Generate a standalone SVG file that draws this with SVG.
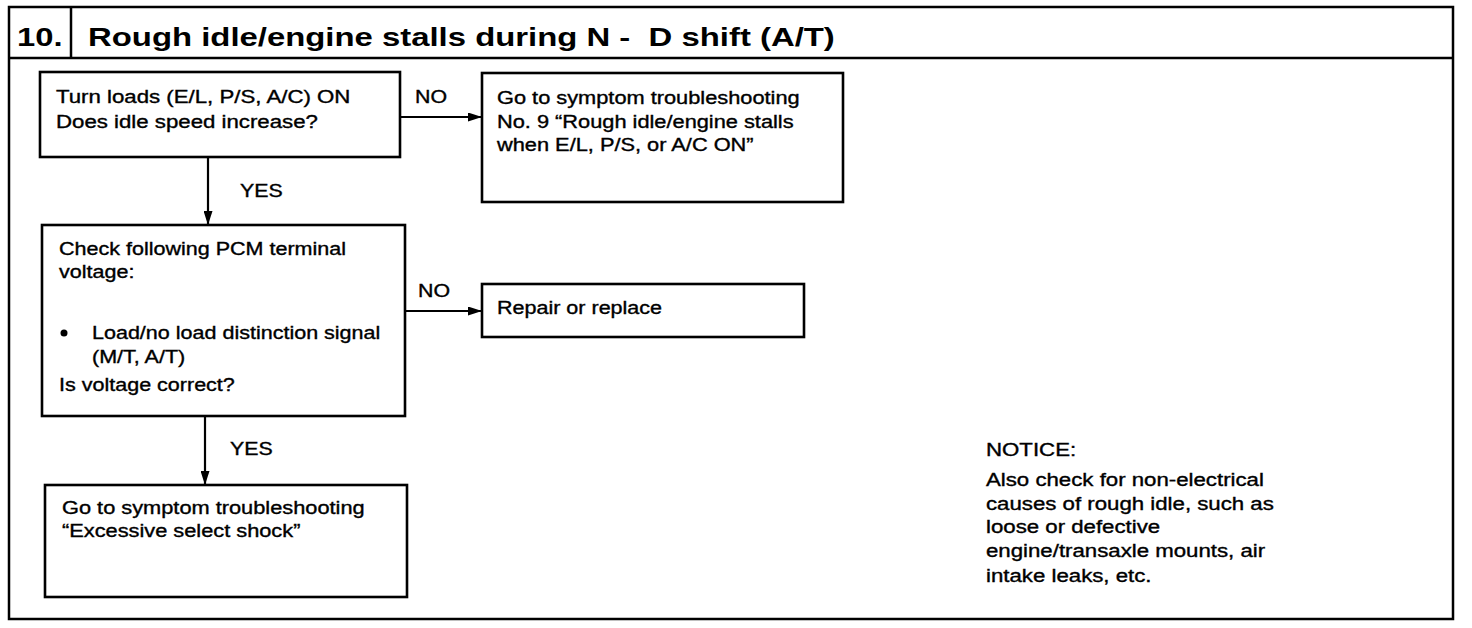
<svg xmlns="http://www.w3.org/2000/svg" width="1472" height="628" viewBox="0 0 1472 628">
<style>
  .bg { fill: #ffffff; }
  .frame { fill: none; stroke: #000; stroke-width: 2.5; }
  .box { fill: #ffffff; stroke: #000; stroke-width: 2.6; }
  .conn { fill: none; stroke: #000; stroke-width: 2.2; }
  .t { font-family: "Liberation Sans", Arial, Helvetica, sans-serif; font-size: 17.5px; fill: #000; stroke: #000; stroke-width: 0.35; }
  .title { font-family: "Liberation Sans", Arial, Helvetica, sans-serif; font-size: 26px; font-weight: bold; fill: #000; white-space: pre; }
</style>
<defs>
  <marker id="arr" viewBox="0 0 14 9" refX="14" refY="4.5" markerWidth="14" markerHeight="9" markerUnits="userSpaceOnUse" orient="auto">
    <path d="M0,0 L14,4.5 L0,9 Z" fill="#000"/>
  </marker>
</defs>
<rect class="bg" x="0" y="0" width="1472" height="628"/>

<g id="frame">
  <rect class="frame" x="9" y="7" width="1444" height="612"/>
  <line class="frame" x1="9" y1="58" x2="1453" y2="58"/>
  <line class="frame" x1="71" y1="7" x2="71" y2="58"/>
  <g transform="translate(17 0) scale(1.26 1)"><text class="title" x="0" y="46">10.</text></g>
  <g transform="translate(88 0) scale(1.265 1)"><text class="title" x="0" y="46">Rough idle/engine stalls during N -  D shift (A/T)</text></g>
</g>

<g id="connectors">
  <line class="conn" x1="400" y1="117" x2="482" y2="117" marker-end="url(#arr)"/>
  <line class="conn" x1="208" y1="157" x2="208" y2="225" marker-end="url(#arr)"/>
  <line class="conn" x1="405" y1="311" x2="482" y2="311" marker-end="url(#arr)"/>
  <line class="conn" x1="205" y1="416" x2="205" y2="485" marker-end="url(#arr)"/>
  <g transform="translate(415 0) scale(1.22 1)"><text class="t" x="0" y="103">NO</text></g>
  <g transform="translate(240 0) scale(1.22 1)"><text class="t" x="0" y="197">YES</text></g>
  <g transform="translate(418 0) scale(1.22 1)"><text class="t" x="0" y="297">NO</text></g>
  <g transform="translate(230 0) scale(1.22 1)"><text class="t" x="0" y="455">YES</text></g>
</g>

<g id="node-loads">
  <rect class="box" x="40" y="72" width="360" height="85"/>
  <g transform="translate(56 0) scale(1.27 1)">
    <text class="t" x="0" y="103">Turn loads (E/L, P/S, A/C) ON</text>
    <text class="t" x="0" y="128">Does idle speed increase?</text>
  </g>
</g>

<g id="node-no9">
  <rect class="box" x="482" y="73" width="361" height="129"/>
  <g transform="translate(497 0) scale(1.245 1)">
    <text class="t" x="0" y="104">Go to symptom troubleshooting</text>
    <text class="t" x="0" y="128">No. 9 “Rough idle/engine stalls</text>
    <text class="t" x="0" y="151">when E/L, P/S, or A/C ON”</text>
  </g>
</g>

<g id="node-check">
  <rect class="box" x="42" y="225" width="363" height="191"/>
  <circle cx="64" cy="333" r="3.5" fill="#000"/>
  <g transform="translate(59 0) scale(1.23 1)">
    <text class="t" x="0" y="255">Check following PCM terminal</text>
    <text class="t" x="0" y="278">voltage:</text>
    <text class="t" x="0" y="391">Is voltage correct?</text>
  </g>
  <g transform="translate(92 0) scale(1.23 1)">
    <text class="t" x="0" y="339">Load/no load distinction signal</text>
    <text class="t" x="0" y="363">(M/T, A/T)</text>
  </g>
</g>

<g id="node-repair">
  <rect class="box" x="482" y="284" width="322" height="53"/>
  <g transform="translate(497 0) scale(1.23 1)">
    <text class="t" x="0" y="314">Repair or replace</text>
  </g>
</g>

<g id="node-shock">
  <rect class="box" x="45" y="485" width="362" height="112"/>
  <g transform="translate(62 0) scale(1.245 1)">
    <text class="t" x="0" y="514">Go to symptom troubleshooting</text>
    <text class="t" x="0" y="537">“Excessive select shock”</text>
  </g>
</g>

<g id="notice">
  <g transform="translate(986 0) scale(1.27 1)">
    <text class="t" x="0" y="456">NOTICE:</text>
    <text class="t" x="0" y="486">Also check for non-electrical</text>
    <text class="t" x="0" y="510">causes of rough idle, such as</text>
    <text class="t" x="0" y="533">loose or defective</text>
    <text class="t" x="0" y="557">engine/transaxle mounts, air</text>
    <text class="t" x="0" y="582">intake leaks, etc.</text>
  </g>
</g>
</svg>
